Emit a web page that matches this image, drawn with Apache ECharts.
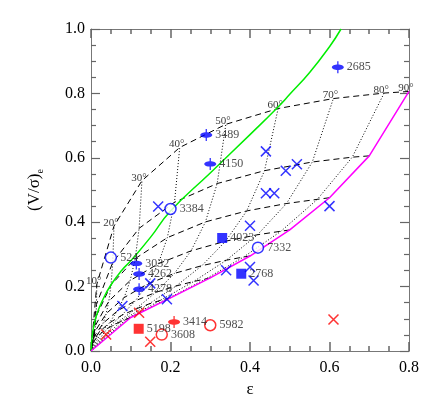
<!DOCTYPE html>
<html>
<head>
<meta charset="utf-8">
<script src="https://cdn.jsdelivr.net/npm/echarts@6/dist/echarts.min.js"></script>
<style>
  html, body { margin: 0; padding: 0; background: #fff; }
  #chart { width: 436px; height: 409px; }
</style>
</head>
<body>
<div id="chart"></div>
<script>
// inclination of each column in the model grid
const inclinations = ['90°', '80°', '70°', '60°', '50°', '40°', '30°', '20°', '10°', ''];

// dashed curves: one row per intrinsic ellipticity 0.1 ... 0.8, columns = inclination 90 -> 0
const dashEps = [
  [0.100, 0.0968, 0.0877, 0.0740, 0.0574, 0.0401, 0.0240, 0.0112, 0.0029, 0],
  [0.200, 0.1932, 0.1741, 0.1456, 0.1119, 0.0774, 0.0461, 0.0213, 0.0054, 0],
  [0.300, 0.2891, 0.2586, 0.2142, 0.1629, 0.1116, 0.0659, 0.0303, 0.0077, 0],
  [0.400, 0.3841, 0.3406, 0.2789, 0.2098, 0.1423, 0.0835, 0.0382, 0.0097, 0],
  [0.500, 0.4779, 0.4189, 0.3386, 0.2517, 0.1693, 0.0986, 0.0449, 0.0114, 0],
  [0.600, 0.5695, 0.4918, 0.3917, 0.2879, 0.1920, 0.1112, 0.0504, 0.0127, 0],
  [0.700, 0.6573, 0.5568, 0.4365, 0.3174, 0.2101, 0.1211, 0.0547, 0.0138, 0],
  [0.800, 0.7374, 0.6097, 0.4708, 0.3392, 0.2232, 0.1282, 0.0578, 0.0146, 0]
];
const dashVs = [
  [0.104, 0.103, 0.098, 0.091, 0.081, 0.069, 0.054, 0.037, 0.019, 0],
  [0.165, 0.163, 0.157, 0.146, 0.130, 0.111, 0.087, 0.060, 0.031, 0],
  [0.227, 0.224, 0.216, 0.202, 0.182, 0.156, 0.124, 0.086, 0.044, 0],
  [0.295, 0.292, 0.282, 0.265, 0.241, 0.208, 0.166, 0.116, 0.060, 0],
  [0.376, 0.372, 0.361, 0.341, 0.311, 0.271, 0.219, 0.155, 0.080, 0],
  [0.476, 0.471, 0.458, 0.435, 0.401, 0.352, 0.287, 0.205, 0.107, 0],
  [0.606, 0.602, 0.587, 0.560, 0.520, 0.462, 0.381, 0.275, 0.145, 0],
  [0.806, 0.801, 0.784, 0.753, 0.704, 0.632, 0.529, 0.388, 0.207, 0]
];

// green isotropic line
const greenEps = [0, 0.005, 0.015, 0.03, 0.05, 0.077, 0.1, 0.149, 0.2, 0.3, 0.4, 0.47, 0.5, 0.55, 0.6, 0.629];
const greenVs  = [0, 0.065, 0.115, 0.16, 0.205, 0.25, 0.28, 0.352, 0.435, 0.553, 0.672, 0.757, 0.797, 0.865, 0.945, 1.0];

// blue points
const blueEllEps = [0.290, 0.300, 0.621, 0.114, 0.121, 0.121];
const blueEllVs  = [0.671, 0.581, 0.881, 0.272, 0.239, 0.192];
const blueEllIds = ['3489', '4150', '2685', '3032', '4262', '4278'];

const blueCircEps = [0.200, 0.050, 0.420];
const blueCircVs  = [0.441, 0.290, 0.321];
const blueCircIds = ['3384', '524', '7332'];

const blueSqEps = [0.330, 0.378];
const blueSqVs  = [0.351, 0.240];
const blueSqIds = ['4023', '2768'];

const blueXEps = [0.169, 0.149, 0.079, 0.191, 0.440, 0.490, 0.518, 0.440, 0.461, 0.600, 0.400, 0.340, 0.400, 0.409];
const blueXVs  = [0.449, 0.210, 0.140, 0.161, 0.620, 0.560, 0.580, 0.490, 0.490, 0.450, 0.389, 0.251, 0.261, 0.219];

// red points
const redEllEps = [0.209];
const redEllVs  = [0.090];
const redEllIds = ['3414'];

const redCircEps = [0.178, 0.300];
const redCircVs  = [0.051, 0.080];
const redCircIds = ['3608', '5982'];

const redSqEps = [0.120];
const redSqVs  = [0.069];
const redSqIds = ['5198'];

const redXEps = [0.038, 0.121, 0.149, 0.610];
const redXVs  = [0.051, 0.119, 0.029, 0.098];

const serif = 'Liberation Serif';
// filled ellipse with a vertical bar through it
const ellPath = 'path://M0,6C0,4.51 2.69,3.3 6,3.3C9.31,3.3 12,4.51 12,6C12,7.49 9.31,8.7 6,8.7C2.69,8.7 0,7.49 0,6Z' +
  'M5.35,0L6.65,0L6.65,12L5.35,12Z';
const xPath = 'path://M0,0L10,10M10,0L0,10';

function pts(xs, ys, ids) {
  return xs.map((x, i) => ids ? { value: [x, ys[i]], name: ids[i] } : [x, ys[i]]);
}

const numLabel = {
  show: true, position: 'right', distance: 3,
  formatter: p => p.name, color: '#222', fontFamily: serif, fontSize: 12
};

const series = [];

// dashed: fixed intrinsic ellipticity
dashEps.forEach((row, r) => {
  series.push({
    type: 'line', silent: true, symbol: 'none', z: 3,
    data: row.map((e, k) => [e, dashVs[r][k]]),
    lineStyle: { color: '#000', width: 1, type: [6, 4] }
  });
});

// dotted: fixed inclination
for (let k = 1; k <= 8; k++) {
  series.push({
    type: 'line', silent: true, symbol: 'none', z: 3,
    data: [[0, 0]].concat(dashEps.map((row, r) => [row[k], dashVs[r][k]])),
    lineStyle: { color: '#000', width: 1, type: [1, 2] }
  });
}

// angle labels at the outer curve
series.push({
  type: 'scatter', silent: true, symbolSize: 1, itemStyle: { color: 'transparent' },
  data: dashEps[7].slice(0, 9).map((e, k) => ({ value: [e, dashVs[7][k]], name: inclinations[k] })),
  label: {
    show: true, position: 'top', distance: 0, offset: [-3, 3],
    formatter: p => p.name, color: '#000', fontFamily: serif, fontSize: 11
  }
});

// green
series.push({
  type: 'line', silent: true, symbol: 'none', smooth: true, z: 4,
  data: pts(greenEps, greenVs),
  lineStyle: { color: '#00ee00', width: 1.5 }
});

// magenta: edge-on column
series.push({
  type: 'line', silent: true, symbol: 'none', z: 4,
  data: [[0, 0]].concat(dashEps.map((row, r) => [row[0], dashVs[r][0]])),
  lineStyle: { color: '#ff00ff', width: 1.5 }
});

function markers(xs, ys, ids, color, kind) {
  const s = { type: 'scatter', z: 6, data: pts(xs, ys, ids) };
  if (kind === 'ell') {
    s.symbol = ellPath; s.symbolSize = [12, 12]; s.itemStyle = { color: color };
  } else if (kind === 'circ') {
    s.symbol = 'circle'; s.symbolSize = 11;
    s.itemStyle = { color: '#fff', borderColor: color, borderWidth: 1.5 };
  } else if (kind === 'sq') {
    s.symbol = 'rect'; s.symbolSize = 10; s.itemStyle = { color: color };
  } else {
    s.symbol = xPath; s.symbolSize = 10;
    s.itemStyle = { color: 'transparent', borderColor: color, borderWidth: 1.5 };
  }
  if (ids) s.label = numLabel;
  return s;
}

series.push(markers(blueXEps, blueXVs, null, '#0000ff', 'x'));
series.push(markers(redXEps, redXVs, null, '#ff0000', 'x'));
series.push(markers(blueEllEps, blueEllVs, blueEllIds, '#0000ff', 'ell'));
series.push(markers(blueCircEps, blueCircVs, blueCircIds, '#0000ff', 'circ'));
series.push(markers(blueSqEps, blueSqVs, blueSqIds, '#0000ff', 'sq'));
series.push(markers(redEllEps, redEllVs, redEllIds, '#ff0000', 'ell'));
series.push(markers(redCircEps, redCircVs, redCircIds, '#ff0000', 'circ'));
series.push(markers(redSqEps, redSqVs, redSqIds, '#ff0000', 'sq'));

function frame() { return { show: true, onZero: false, lineStyle: { color: '#777', width: 1 } }; }
function tick(w) { return { show: true, inside: true, length: 9, lineStyle: { color: '#666', width: w } }; }
function minor(w) { return { show: true, splitNumber: 4, length: 5, lineStyle: { color: '#666', width: w } }; }
const tickFont = { color: '#000', fontFamily: serif, fontSize: 16 };

const chart = echarts.init(document.getElementById('chart'));
chart.setOption({
  animation: false,
  grid: { left: 91, right: 27, top: 29, bottom: 58 },
  xAxis: [
    {
      type: 'value', position: 'bottom', min: 0, max: 0.8, interval: 0.2,
      name: 'ε', nameLocation: 'middle', nameGap: 30,
      nameTextStyle: { color: '#000', fontFamily: serif, fontSize: 17 },
      axisLine: frame(), axisTick: tick(1.5), minorTick: minor(1.5), splitLine: { show: false },
      axisLabel: Object.assign({ margin: 9, formatter: v => v.toFixed(1) }, tickFont)
    },
    {
      type: 'value', position: 'top', min: 0, max: 0.8, interval: 0.2,
      axisLine: frame(), axisTick: tick(1.5), minorTick: minor(1.5), splitLine: { show: false },
      axisLabel: { show: false }
    }
  ],
  yAxis: [
    {
      type: 'value', position: 'left', min: 0, max: 1.0, interval: 0.2,
      name: '(V/σ){s|e}', nameLocation: 'middle', nameGap: 46, nameRotate: 90,
      nameTextStyle: {
        color: '#000', fontFamily: serif, fontSize: 17,
        rich: { s: { fontFamily: serif, fontSize: 10, padding: [10, 0, 0, 0] } }
      },
      axisLine: frame(), axisTick: tick(1.2), minorTick: minor(1.2), splitLine: { show: false },
      axisLabel: Object.assign({ margin: 6, formatter: v => v.toFixed(1) }, tickFont)
    },
    {
      type: 'value', position: 'right', min: 0, max: 1.0, interval: 0.2,
      axisLine: frame(), axisTick: tick(1.2), minorTick: minor(1.2), splitLine: { show: false },
      axisLabel: { show: false }
    }
  ],
  series: series
});
</script>
</body>
</html>
